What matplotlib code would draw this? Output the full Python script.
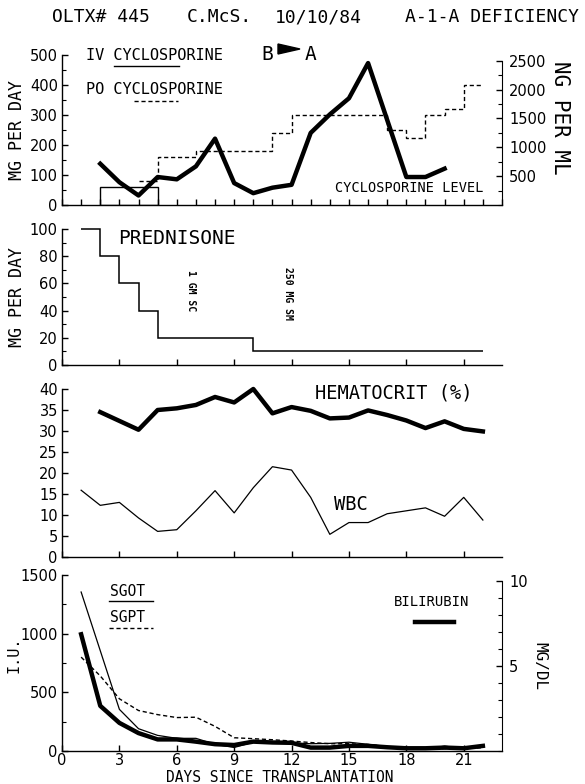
import matplotlib
matplotlib.use("Agg")
import matplotlib.pyplot as plt
from matplotlib.patches import Polygon
from matplotlib.ticker import MultipleLocator, FixedLocator

plt.rcParams['font.family'] = ['DejaVu Sans']

# ---------------- data ----------------
# Panel 1: cyclosporine
iv_start, iv_end, iv_dose = 2, 5, 60
po_edges = [4, 5, 7, 11, 12, 17, 18, 19, 20, 21, 22]
po_dose = [80, 160, 180, 240, 300, 250, 225, 300, 320, 400]
cyc_days = [2, 3, 4, 5, 6, 7, 8, 9, 10, 11, 12, 13, 14, 15, 16, 18, 19, 20]
cyc_level = [715, 395, 165, 485, 445, 670, 1150, 380, 205, 300, 350, 1250, 1570, 1850, 2460, 485, 485, 630]

# Panel 2: prednisone
pred_edges = [1, 2, 3, 4, 5, 10, 22]
pred_dose = [100, 80, 60, 40, 20, 10]

# Panel 3: hematocrit and WBC
hct_days = [2, 4, 5, 6, 7, 8, 9, 10, 11, 12, 13, 14, 15, 16, 17, 18, 19, 20, 21, 22]
hct = [34.5, 30.3, 35.0, 35.4, 36.2, 38.1, 36.8, 40.0, 34.2, 35.7, 34.8, 33.0, 33.2, 34.9, 33.8, 32.5, 30.7, 32.3, 30.5, 29.9]
wbc_days = list(range(1, 23))
wbc = [15.9, 12.3, 13.0, 9.3, 6.1, 6.5, 11.0, 15.8, 10.5, 16.5, 21.5, 20.7, 14.2, 5.4, 8.2, 8.2, 10.3, 11.0, 11.7, 9.7, 14.2, 8.8]

# Panel 4: liver tests
sgot_days = [1, 3, 4, 5, 6, 7, 8, 9, 10, 11, 12, 13, 14, 15, 16, 17, 18, 19, 20, 21, 22]
sgot = [1355, 355, 190, 133, 108, 108, 57, 30, 75, 75, 70, 62, 65, 75, 57, 38, 20, 15, 42, 20, 34]
sgpt_days = list(range(1, 23))
sgpt = [800, 640, 445, 345, 310, 285, 288, 210, 113, 105, 96, 85, 72, 62, 62, 55, 38, 20, 15, 20, 20, 28]
bili_days = list(range(1, 23))
bili = [6.85, 2.65, 1.65, 1.05, 0.68, 0.68, 0.55, 0.4, 0.35, 0.55, 0.5, 0.48, 0.2, 0.2, 0.3, 0.3, 0.22, 0.16, 0.16, 0.2, 0.16, 0.3]

title_parts = ["OLTX# 445", "C.McS.", "10/10/84", "A-1-A DEFICIENCY"]
xtick_vals = [0, 3, 6, 9, 12, 15, 18, 21]

# ---------------- figure ----------------
W, H = 585, 784
fig = plt.figure(figsize=(W / 100, H / 100), dpi=100)

MONO = ['DejaVu Sans Mono']
TICKFONT = ['Liberation Sans Narrow', 'DejaVu Sans']


def fx(x):
    return x / W


def fy(y):
    return 1 - y / H


def axbox(left, top, right, bottom):
    return [fx(left), fy(bottom), (right - left) / W, (bottom - top) / H]


def label(x, y, s, size, **kw):
    kw.setdefault('ha', 'left')
    kw.setdefault('va', 'center')
    fig.text(fx(x), fy(y), s, fontsize=size, family=MONO, **kw)


LW_THIN = 0.9
LW_THICK = 3.2
TL = 10.5  # tick label size
XMAX = 23.0


def fix_ticklabels(ax):
    for lab in ax.get_xticklabels() + ax.get_yticklabels():
        lab.set_family(TICKFONT)


def style(ax, right=False):
    ax.spines['top'].set_visible(False)
    ax.spines['right'].set_visible(right)
    for s in ax.spines.values():
        s.set_linewidth(1.0)
    ax.tick_params(direction='in', length=4, width=1.0, labelsize=TL, pad=3)
    ax.tick_params(which='minor', direction='in', length=3, width=0.8)
    ax.set_xlim(0, XMAX)


# title
for txt, xl in zip(title_parts, [52, 187, 275, 405]):
    label(xl, 17, txt, 13)

# ---------- panel 1 ----------
ax1 = fig.add_axes(axbox(62, 55, 502, 205))
style(ax1)
ax1.set_ylim(0, 500)
ax1.yaxis.set_major_locator(MultipleLocator(100))
ax1.yaxis.set_minor_locator(MultipleLocator(50))
ax1.xaxis.set_major_locator(MultipleLocator(1))
ax1.set_xticklabels([])
ax1.bar(iv_start, iv_dose, width=iv_end - iv_start, align='edge', fill=False,
        edgecolor='black', linewidth=1.0)
ax1.stairs(po_dose, po_edges, baseline=None, color='black', linewidth=1.0,
           linestyle=(0, (3, 2)))
ax1r = ax1.twinx()
ax1r.set_xlim(0, XMAX)
ax1r.plot(cyc_days, cyc_level, color='black', linewidth=LW_THICK, clip_on=False)
ax1r.set_ylim(0, 2600)
for s in ['top', 'left', 'bottom']:
    ax1r.spines[s].set_visible(False)
ax1r.spines['right'].set_bounds(0, 2500)
ax1r.yaxis.set_major_locator(FixedLocator([500, 1000, 1500, 2000, 2500]))
ax1r.yaxis.set_minor_locator(MultipleLocator(250))
ax1r.tick_params(direction='in', length=4, width=1.0, labelsize=TL, pad=5)
ax1r.tick_params(which='minor', direction='in', length=3, width=0.8)
fix_ticklabels(ax1)
fix_ticklabels(ax1r)

label(86, 55, "IV CYCLOSPORINE", 11)
fig.add_artist(plt.Line2D([fx(114), fx(179)], [fy(66), fy(66)], color='black', lw=1.0))
label(86, 90, "PO CYCLOSPORINE", 11)
fig.add_artist(plt.Line2D([fx(134), fx(178)], [fy(101), fy(101)], color='black', lw=1.0,
                          linestyle=(0, (3, 2))))
label(261, 54, "B", 14)
fig.add_artist(Polygon([[fx(278), fy(44)], [fx(300), fy(49)], [fx(278), fy(54)]],
                       closed=True, color='black', transform=fig.transFigure))
label(305, 55, "A", 14)
label(335, 188, "CYCLOSPORINE LEVEL", 9.8)
label(17, 130, "MG PER DAY", 12, rotation=90, ha='center')
label(560, 118, "NG PER ML", 15, rotation=-90, ha='center')

# ---------- panel 2 ----------
ax2 = fig.add_axes(axbox(62, 229, 502, 365))
style(ax2)
ax2.set_ylim(0, 100)
ax2.yaxis.set_major_locator(MultipleLocator(20))
ax2.yaxis.set_minor_locator(MultipleLocator(10))
ax2.xaxis.set_major_locator(MultipleLocator(3))
ax2.set_xticklabels([])
ax2.stairs(pred_dose, pred_edges, baseline=None, color='black', linewidth=1.1, clip_on=False)
fix_ticklabels(ax2)
label(118, 239, "PREDNISONE", 14)
label(191, 291, "1 GM SC", 7, rotation=-90, ha='center', fontweight='bold')
label(288, 293, "250 MG SM", 7, rotation=-90, ha='center', fontweight='bold')
label(17, 297, "MG PER DAY", 12, rotation=90, ha='center')

# ---------- panel 3 ----------
ax3 = fig.add_axes(axbox(62, 389, 502, 557))
style(ax3)
ax3.set_ylim(0, 40)
ax3.yaxis.set_major_locator(MultipleLocator(5))
ax3.xaxis.set_major_locator(MultipleLocator(3))
ax3.set_xticklabels([])
ax3.plot(hct_days, hct, color='black', linewidth=LW_THICK, clip_on=False)
ax3.plot(wbc_days, wbc, color='black', linewidth=LW_THIN)
fix_ticklabels(ax3)
label(315, 393, "HEMATOCRIT (%)", 13.5)
label(334, 505, "WBC", 13.5)

# ---------- panel 4 ----------
ax4 = fig.add_axes(axbox(62, 575, 502, 751))
style(ax4)
ax4.set_ylim(0, 1500)
ax4.yaxis.set_major_locator(MultipleLocator(500))
ax4.yaxis.set_minor_locator(MultipleLocator(250))
ax4.xaxis.set_major_locator(FixedLocator(xtick_vals))
ax4.set_xticklabels([str(v) for v in xtick_vals])
ax4.tick_params(axis='x', pad=1.5)
ax4.plot(sgot_days, sgot, color='black', linewidth=LW_THIN)
ax4.plot(sgpt_days, sgpt, color='black', linewidth=1.0, linestyle=(0, (3, 2)))
ax4r = ax4.twinx()
ax4r.set_xlim(0, XMAX)
ax4r.plot(bili_days, bili, color='black', linewidth=LW_THICK)
ax4r.set_ylim(0, 10.33)
for s in ['top', 'left', 'bottom']:
    ax4r.spines[s].set_visible(False)
ax4r.spines['right'].set_bounds(0, 10)
ax4r.yaxis.set_major_locator(FixedLocator([5, 10]))
ax4r.yaxis.set_minor_locator(MultipleLocator(1))
ax4r.tick_params(direction='in', length=4, width=1.0, labelsize=TL, pad=5)
ax4r.tick_params(which='minor', direction='in', length=3, width=0.8)
fix_ticklabels(ax4)
fix_ticklabels(ax4r)

label(110, 592, "SGOT", 10.5)
fig.add_artist(plt.Line2D([fx(109), fx(153)], [fy(601), fy(601)], color='black', lw=1.0))
label(110, 618, "SGPT", 10.5)
fig.add_artist(plt.Line2D([fx(109), fx(153)], [fy(628), fy(628)], color='black', lw=1.0,
                          linestyle=(0, (3, 2))))
label(394, 602, "BILIRUBIN", 10)
fig.add_artist(plt.Line2D([fx(415), fx(454)], [fy(622), fy(622)], color='black', lw=LW_THICK))
label(14, 655, "I.U.", 11, rotation=90, ha='center')
label(540, 666, "MG/DL", 11.5, rotation=-90, ha='center')
label(280, 777, "DAYS SINCE TRANSPLANTATION", 10.5, ha='center')

fig.savefig("out.png", dpi=100)
